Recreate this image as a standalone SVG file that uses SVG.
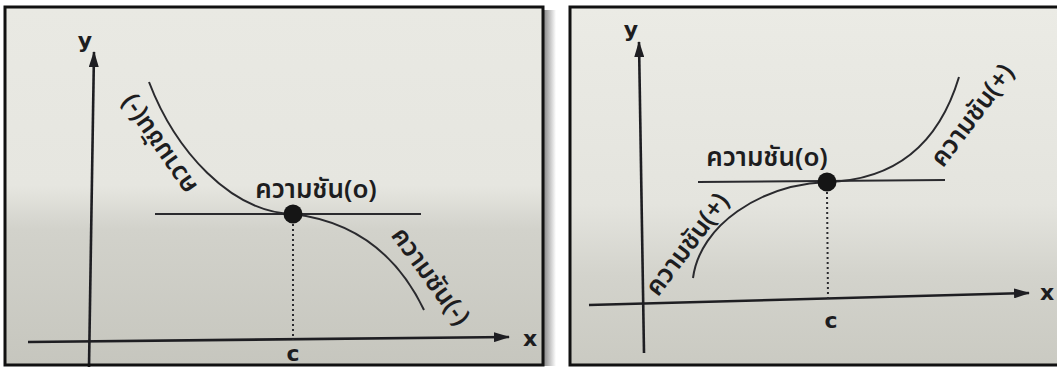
<svg xmlns="http://www.w3.org/2000/svg" width="1057" height="367" viewBox="0 0 1057 367">
  <defs>
    <linearGradient id="paperL" x1="0" y1="0" x2="0" y2="1">
      <stop offset="0" stop-color="#e9e9e3"/>
      <stop offset="0.5" stop-color="#e6e6e0"/>
      <stop offset="0.62" stop-color="#d2d2cb"/>
      <stop offset="1" stop-color="#c6c6be"/>
    </linearGradient>
    <linearGradient id="paperR" x1="0" y1="0" x2="0" y2="1">
      <stop offset="0" stop-color="#ebebe5"/>
      <stop offset="0.55" stop-color="#e4e4de"/>
      <stop offset="0.75" stop-color="#d3d3cc"/>
      <stop offset="1" stop-color="#cacac2"/>
    </linearGradient>
    <linearGradient id="shadow" x1="0" y1="0" x2="1" y2="0">
      <stop offset="0" stop-color="#8a8a8a"/>
      <stop offset="1" stop-color="#ffffff"/>
    </linearGradient>
    <marker id="arr" viewBox="0 0 16 10" refX="15" refY="5" markerWidth="16" markerHeight="10" markerUnits="userSpaceOnUse" orient="auto">
      <path d="M0,0 L16,5 L0,10 Z" fill="#1e1e22"/>
    </marker>
  </defs>
  <style>
    .frame { fill: none; stroke: #111; stroke-width: 3; }
    .axis { fill: none; stroke: #1e1e22; stroke-width: 2.6; }
    .tan { fill: none; stroke: #2a2a2e; stroke-width: 2; }
    .curve { fill: none; stroke: #2a2a2e; stroke-width: 2; }
    .dots { fill: none; stroke: #2a2a2e; stroke-width: 2; stroke-dasharray: 2 3; }
    .pt { fill: #151515; }
    .th { font-family: "Noto Sans Thai", "Noto Sans Thai UI", "Loma", "Garuda", "Noto Sans", sans-serif; font-size: 26px; font-weight: 600; fill: #1d1d1f; text-anchor: middle; }
    .ax { font-family: "DejaVu Sans", "Liberation Sans", sans-serif; font-weight: bold; font-size: 22px; fill: #1d1d1f; text-anchor: middle; }
  </style>
  <rect x="0" y="0" width="1057" height="367" fill="#ffffff"/>

  <g id="panel-left">
    <rect x="544" y="10" width="12" height="356" fill="url(#shadow)"/>
    <rect x="5" y="7" width="538" height="358" fill="url(#paperL)"/>
    <g id="left-axes">
      <line class="axis" x1="89" y1="367" x2="94" y2="52" marker-end="url(#arr)"/>
      <line class="axis" x1="28" y1="342" x2="509" y2="337" marker-end="url(#arr)"/>
      <text class="ax" x="85" y="48">y</text>
      <text class="ax" x="530" y="346">x</text>
      <text class="ax" x="293" y="361" font-size="20">c</text>
    </g>
    <g id="left-curve">
      <line class="tan" x1="155" y1="214" x2="421" y2="214"/>
      <path class="curve" d="M149,82 C175,150 230,212 293,214 C360,222 400,260 424,310"/>
      <line class="dots" x1="293" y1="224" x2="293" y2="340"/>
      <circle class="pt" cx="293" cy="214" r="9.5"/>
    </g>
    <g id="left-labels">
      <text class="th" x="316" y="198">ความชัน(o)</text>
      <text class="th" transform="translate(158,145) rotate(235)" x="0" y="9">ความชัน(-)</text>
      <text class="th" transform="translate(431,276) rotate(54)" x="0" y="9">ความชัน(-)</text>
    </g>
    <rect class="frame" x="5" y="7" width="538" height="358"/>
  </g>

  <g id="panel-right">
    <rect x="570" y="7" width="500" height="358" fill="url(#paperR)"/>
    <g id="right-axes">
      <line class="axis" x1="644" y1="353" x2="639" y2="42" marker-end="url(#arr)"/>
      <line class="axis" x1="589" y1="305" x2="1029" y2="293" marker-end="url(#arr)"/>
      <text class="ax" x="631" y="37">y</text>
      <text class="ax" x="1047" y="300">x</text>
      <text class="ax" x="831" y="328">c</text>
    </g>
    <g id="right-curve">
      <line class="tan" x1="698" y1="182" x2="945" y2="180"/>
      <path class="curve" d="M693,278 C700,225 760,185 827,182 C900,180 940,140 959,77"/>
      <line class="dots" x1="827" y1="192" x2="828" y2="299"/>
      <circle class="pt" cx="827" cy="182" r="9.5"/>
    </g>
    <g id="right-labels">
      <text class="th" x="767" y="166">ความชัน(o)</text>
      <text class="th" transform="translate(687,244) rotate(-53)" x="0" y="9">ความชัน(+)</text>
      <text class="th" transform="translate(972,115) rotate(-53)" x="0" y="9">ความชัน(+)</text>
    </g>
    <rect class="frame" x="570" y="7" width="500" height="358"/>
  </g>
</svg>
